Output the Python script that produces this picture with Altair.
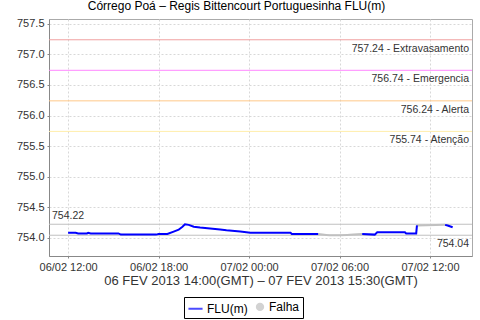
import altair as alt
import pandas as pd

# ---- data ----
flu_times = [
    "2013-02-06T12:00", "2013-02-06T12:30", "2013-02-06T12:40", "2013-02-06T13:15",
    "2013-02-06T13:20", "2013-02-06T13:30", "2013-02-06T15:20", "2013-02-06T15:30",
    "2013-02-06T17:50", "2013-02-06T18:00", "2013-02-06T18:35", "2013-02-06T19:00",
    "2013-02-06T19:20", "2013-02-06T19:35", "2013-02-06T19:45", "2013-02-06T20:00",
    "2013-02-06T20:20", "2013-02-06T20:45", "2013-02-06T21:25", "2013-02-06T22:05",
    "2013-02-06T22:30", "2013-02-06T23:25", "2013-02-07T00:05", "2013-02-07T02:45",
    "2013-02-07T02:50", "2013-02-07T04:35",
    "2013-02-07T07:30", "2013-02-07T08:20", "2013-02-07T08:30", "2013-02-07T10:20",
    "2013-02-07T10:25", "2013-02-07T11:05", "2013-02-07T11:08",
    "2013-02-07T13:00", "2013-02-07T13:10", "2013-02-07T13:30",
]
flu_values = [
    754.08, 754.08, 754.07, 754.07,
    754.08, 754.07, 754.07, 754.05,
    754.05, 754.06, 754.06, 754.10,
    754.13, 754.18, 754.22, 754.21,
    754.18, 754.165, 754.15, 754.135,
    754.12, 754.10, 754.08, 754.08,
    754.06, 754.06,
    754.06, 754.05, 754.09, 754.09,
    754.07, 754.07, 754.20,
    754.21, 754.20, 754.17,
]
flu_segments = [1] * 26 + [2] * 7 + [3] * 3

falha_times = [
    "2013-02-07T04:35", "2013-02-07T05:30", "2013-02-07T06:30", "2013-02-07T07:30",
    "2013-02-07T11:08", "2013-02-07T13:00",
]
falha_values = [754.06, 754.04, 754.045, 754.06, 754.20, 754.21]
falha_segments = [1, 1, 1, 1, 2, 2]

thr_values = [757.24, 756.74, 756.24, 755.74]
thr_names = ["Extravasamento", "Emergencia", "Alerta", "Atenção"]
thr_colors = ["#f0a0a0", "#ff88ff", "#ffc888", "#ffeeaa"]

ref_values = [754.22, 754.04]
ref_labels = ["754.22", "754.04"]

series_names = ["FLU(m)", "Falha"]
series_colors = ["#0000ff", "#c0c0c0"]

x_ticks = ["2013-02-06T12:00", "2013-02-06T18:00", "2013-02-07T00:00",
           "2013-02-07T06:00", "2013-02-07T12:00"]
x_domain = ["2013-02-06T10:44", "2013-02-07T14:47"]
y_ticks = [754.0, 754.5, 755.0, 755.5, 756.0, 756.5, 757.0, 757.5]
y_domain = [753.7, 757.58]

title_text = "Córrego Poá – Regis Bittencourt Portuguesinha FLU(m)"
x_title = "06 FEV 2013 14:00(GMT) – 07 FEV 2013 15:30(GMT)"

# ---- tables ----
flu_df = pd.DataFrame({"t": flu_times, "v": flu_values, "seg": flu_segments, "series": "FLU(m)"})
falha_df = pd.DataFrame({"t": falha_times, "v": falha_values, "seg": falha_segments, "series": "Falha"})
thr_df = pd.DataFrame({"v": thr_values, "c": thr_colors,
                       "label": [f"{v:.2f} - {n}" for v, n in zip(thr_values, thr_names)]})
ref_df = pd.DataFrame({"v": ref_values, "label": ref_labels, "i": [0, 1]})
legend_df = pd.DataFrame({"series": series_names, "t": x_ticks[:2], "v": [754.0, 754.0]})


def to_dt(s):
    ts = pd.Timestamp(s)
    return alt.DateTime(year=ts.year, month=ts.month, date=ts.day, hours=ts.hour, minutes=ts.minute)


W, H = 423, 237
FONT = "Liberation Sans"

x_scale = alt.Scale(domain=[to_dt(s) for s in x_domain])
y_scale = alt.Scale(domain=y_domain, nice=False, zero=False)
x_axis = alt.Axis(values=[to_dt(s) for s in x_ticks], format="%d/%m %H:%M", title=x_title)
y_axis = alt.Axis(values=y_ticks, format=".1f", title=None)


def X():
    return alt.X("t:T", scale=x_scale, axis=x_axis)


def Y():
    return alt.Y("v:Q", scale=y_scale, axis=y_axis)


color_enc = alt.Color("series:N", scale=alt.Scale(domain=series_names, range=series_colors),
                      legend=alt.Legend(title=None))

thr_rules = alt.Chart(thr_df).mark_rule(strokeWidth=1).encode(
    y=Y(), color=alt.Color("c:N", scale=None))
thr_text = alt.Chart(thr_df).mark_text(align="right", baseline="top", dy=4, font=FONT,
                                        fontSize=10.5, color="#333333").encode(
    y=Y(), x=alt.value(W - 3), text="label:N")

ref_rules = alt.Chart(ref_df).mark_rule(strokeWidth=1, color="#c0c0c0").encode(y=Y())
ref_text_top = alt.Chart(ref_df).transform_filter(alt.datum.i == 0).mark_text(
    align="left", baseline="bottom", dy=-3, font=FONT, fontSize=10.5, color="#333333").encode(
    y=Y(), x=alt.value(3), text="label:N")
ref_text_bot = alt.Chart(ref_df).transform_filter(alt.datum.i == 1).mark_text(
    align="right", baseline="top", dy=4, font=FONT, fontSize=10.5, color="#333333").encode(
    y=Y(), x=alt.value(W - 3), text="label:N")

falha_line = alt.Chart(falha_df).mark_line(strokeWidth=2, interpolate="monotone").encode(
    x=X(), y=Y(), detail="seg:N", color=color_enc)
flu_line = alt.Chart(flu_df).mark_line(strokeWidth=2).encode(
    x=X(), y=Y(), detail="seg:N", color=color_enc)

legend_pts = alt.Chart(legend_df).transform_filter(alt.datum.series == "none").mark_point(
    filled=True).encode(
    x=X(), y=Y(),
    color=color_enc,
    stroke=alt.Stroke("series:N", scale=alt.Scale(domain=series_names, range=series_colors),
                      legend=alt.Legend(title=None)),
    shape=alt.Shape("series:N", scale=alt.Scale(domain=series_names, range=["stroke", "circle"]),
                    legend=alt.Legend(title=None)),
    size=alt.Size("series:N", scale=alt.Scale(domain=series_names, range=[200, 40]),
                  legend=alt.Legend(title=None)),
)

chart = alt.layer(
    thr_rules, thr_text, ref_rules, ref_text_top, ref_text_bot, falha_line, flu_line, legend_pts
).properties(
    width=W, height=H,
    autosize="none",
    padding={"left": 49, "top": 19, "right": 8, "bottom": 64},
    title=alt.TitleParams(title_text, font=FONT, fontSize=12, fontWeight="normal",
                          color="#000000", anchor="middle", frame="bounds", offset=5, dx=-8),
    background="white",
).configure_view(
    stroke="#aaaaaa", strokeWidth=1
).configure_axis(
    labelFont=FONT, labelFontSize=11, labelColor="#333333",
    titleFont=FONT, titleFontWeight="normal", titleColor="#333333",
    grid=True, gridColor="#d8d8d8", gridDash=[2, 2], gridWidth=1,
    domainColor="#888888", tickColor="#888888", tickSize=2, labelPadding=3,
).configure_axisX(
    titleFontSize=13, titlePadding=2, labelPadding=3
).configure_legend(
    orient="none", legendX=135, legendY=278, direction="horizontal",
    strokeColor="#000000", strokeWidth=1, padding=3, cornerRadius=0,
    labelFont=FONT, labelFontSize=12, labelColor="#000000",
    symbolStrokeWidth=2, columnPadding=4, labelOffset=3,
)

chart.save("out.html", embed_options={"renderer": "svg", "actions": False})
